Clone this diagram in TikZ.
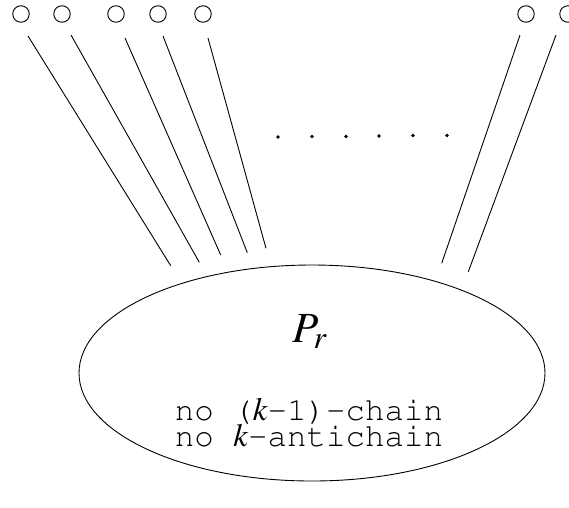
\documentclass[tikz,border=0pt]{standalone}
\usepackage[T1]{fontenc}
\usepackage{mathptmx}
\usetikzlibrary{shapes.geometric}
\begin{document}
\begin{tikzpicture}[x=1pt,y=-1pt,
  port/.style={draw, circle, minimum size=16.5pt, inner sep=0pt, line width=0.9pt},
  wire/.style={line width=0.9pt},
  dotmark/.style={fill, circle, minimum size=3.8pt, inner sep=0pt},
  monotext/.style={font=\fontfamily{pcr}\fontsize{32.5}{32.5}\selectfont, anchor=base, inner sep=0pt},
  bigtext/.style={font=\fontsize{43}{43}\selectfont, anchor=base, inner sep=0pt}]
\useasboundingbox (0,0) rectangle (569,507);
% ports
\node[port] (c1) at (21,14) {};
\node[port] (c2) at (62,14) {};
\node[port] (c3) at (116,14) {};
\node[port] (c4) at (158,14) {};
\node[port] (c5) at (203,14) {};
\node[port] (c6) at (526,14) {};
\node[port] (c7) at (568,14) {};
% wire ends
\coordinate (s1) at (28,36);    \coordinate (e1) at (170.7,265.7);
\coordinate (s2) at (71,35);    \coordinate (e2) at (199.3,262.3);
\coordinate (s3) at (125,38);   \coordinate (e3) at (220.7,255);
\coordinate (s4) at (163,36);   \coordinate (e4) at (247.3,252.7);
\coordinate (s5) at (208,38);   \coordinate (e5) at (266,248.3);
\coordinate (s6) at (520,35);   \coordinate (e6) at (441.7,263.3);
\coordinate (s7) at (556,35);   \coordinate (e7) at (468.3,271.7);
\foreach \i in {1,...,7} {\draw[wire] (s\i) -- (e\i);}
% dots
\node[dotmark] (d1) at (278,137) {};
\node[dotmark] (d2) at (312,136.5) {};
\node[dotmark] (d3) at (346,136.5) {};
\node[dotmark] (d4) at (379,136) {};
\node[dotmark] (d5) at (413,135.5) {};
\node[dotmark] (d6) at (447,135.5) {};
% ellipse
\node[draw, ellipse, line width=0.9pt, minimum width=466pt, minimum height=216pt, inner sep=0pt] (P) at (312,373) {};
\node[bigtext] (pr) at (310,342) {$P_r$};
\node[monotext] (t1) at (309,420) {no ($k$-1)-chain};
\node[monotext] (t2) at (309,446) {no $k$-antichain};
\end{tikzpicture}
\end{document}
